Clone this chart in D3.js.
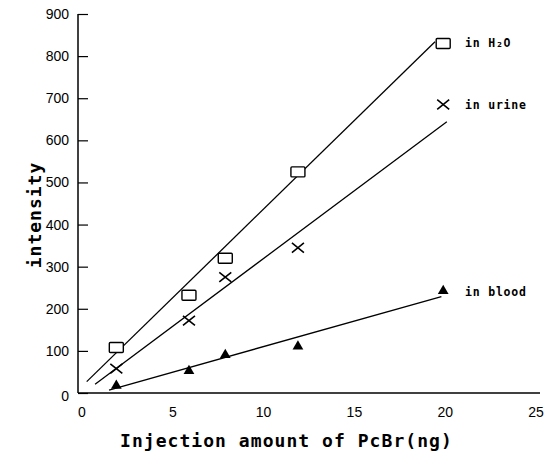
<!DOCTYPE html>
<html><head><meta charset="utf-8">
<script src="https://cdn.jsdelivr.net/npm/d3@7"></script>
<style>body{margin:0;background:#fff}svg{display:block}</style>
</head><body>
<svg id="c" width="545" height="454"></svg>
<script>
const injection = [2, 6, 8, 12, 20];
const h2o   = [108, 232, 320, 525, 830];
const urine = [58, 172, 275, 345, 685];
const blood = [15, 50, 88, 108, 240];
const fitH2o   = [[0.37, 27], [19.55, 834]];
const fitUrine = [[0.83, 21], [20.2, 644]];
const fitBlood = [[1.6, 7], [19.9, 229]];
const xTicks = [0, 5, 10, 15, 20, 25];
const yTicks = [0, 100, 200, 300, 400, 500, 600, 700, 800, 900];
const seriesLabels = ["in H\u2082O", "in urine", "in blood"];

const svg = d3.select("#c");
const x = d3.scaleLinear().domain([0, 25]).range([80, 534]);
const y = d3.scaleLinear().domain([0, 900]).range([393, 14]);

// axes
const yAxis = d3.axisRight(y).tickValues(yTicks).tickSize(10).tickFormat("");
const gy = svg.append("g").attr("transform", "translate(78,0)").call(yAxis);
gy.select(".domain").attr("d", `M0,${y(900)}V${y(0)}`).attr("stroke", "#000").attr("stroke-width", 1.5);
gy.selectAll(".tick line").attr("stroke", "#000").attr("stroke-width", 1.2);

svg.append("line").attr("x1", 78).attr("x2", 540).attr("y1", y(0)).attr("y2", y(0))
  .attr("stroke", "#000").attr("stroke-width", 1.5);

const font = "'Liberation Sans', Arial, sans-serif";
svg.append("g").selectAll("text").data(yTicks).join("text")
  .attr("x", 69).attr("y", d => d === 0 ? y(d) + 8 : y(d) + 5)
  .attr("text-anchor", "end").attr("font-family", font).attr("font-size", 14)
  .text(d => d);
svg.append("g").selectAll("text").data(xTicks).join("text")
  .attr("x", d => x(d) + 2).attr("y", 417)
  .attr("text-anchor", "middle").attr("font-family", font).attr("font-size", 14)
  .text(d => d);

const mono = "'DejaVu Sans Mono', 'Liberation Mono', monospace";
svg.append("text").attr("x", 120).attr("y", 447)
  .attr("font-family", mono).attr("font-size", 18).attr("font-weight", "bold")
  .attr("letter-spacing", 1.05)
  .text("Injection amount of PcBr(ng)");
svg.append("text").attr("transform", "translate(41,215) rotate(-90)").attr("text-anchor", "middle")
  .attr("font-family", mono).attr("font-size", 18).attr("font-weight", "bold")
  .attr("letter-spacing", 1)
  .text("intensity");

// fit lines
const line = d3.line().x(d => x(d[0])).y(d => y(d[1]));
[fitH2o, fitUrine, fitBlood].forEach(f => {
  svg.append("path").attr("d", line(f)).attr("fill", "none").attr("stroke", "#000").attr("stroke-width", 1.3);
});

// markers
svg.append("g").selectAll("rect").data(injection).join("rect")
  .attr("x", (d) => x(d) - 7).attr("y", (d, i) => y(h2o[i]) - 5)
  .attr("width", 14).attr("height", 10).attr("rx", 1)
  .attr("fill", "#fff").attr("stroke", "#000").attr("stroke-width", 1.4);

const cross = svg.append("g");
injection.forEach((d, i) => {
  const cx = x(d), cy = y(urine[i]), s = 6;
  cross.append("path").attr("d", `M${cx - s},${cy - s * 0.8}L${cx + s},${cy + s * 0.8}M${cx - s},${cy + s * 0.8}L${cx + s},${cy - s * 0.8}`)
    .attr("stroke", "#000").attr("stroke-width", 1.6).attr("fill", "none");
});

const tri = d3.symbol().type(d3.symbolTriangle).size(50);
svg.append("g").selectAll("path").data(injection).join("path")
  .attr("d", tri).attr("transform", (d, i) => `translate(${x(d)},${y(blood[i]) - 1})`)
  .attr("fill", "#000");

// series labels
const labelPos = [830, 685, 240];
svg.append("g").selectAll("text").data(seriesLabels).join("text")
  .attr("x", 465).attr("y", (d, i) => y(labelPos[i]) + 4)
  .attr("font-family", mono).attr("font-size", 11.5).attr("font-weight", "bold")
  .attr("letter-spacing", 0.8)
  .text(d => d);
</script>
</body></html>
